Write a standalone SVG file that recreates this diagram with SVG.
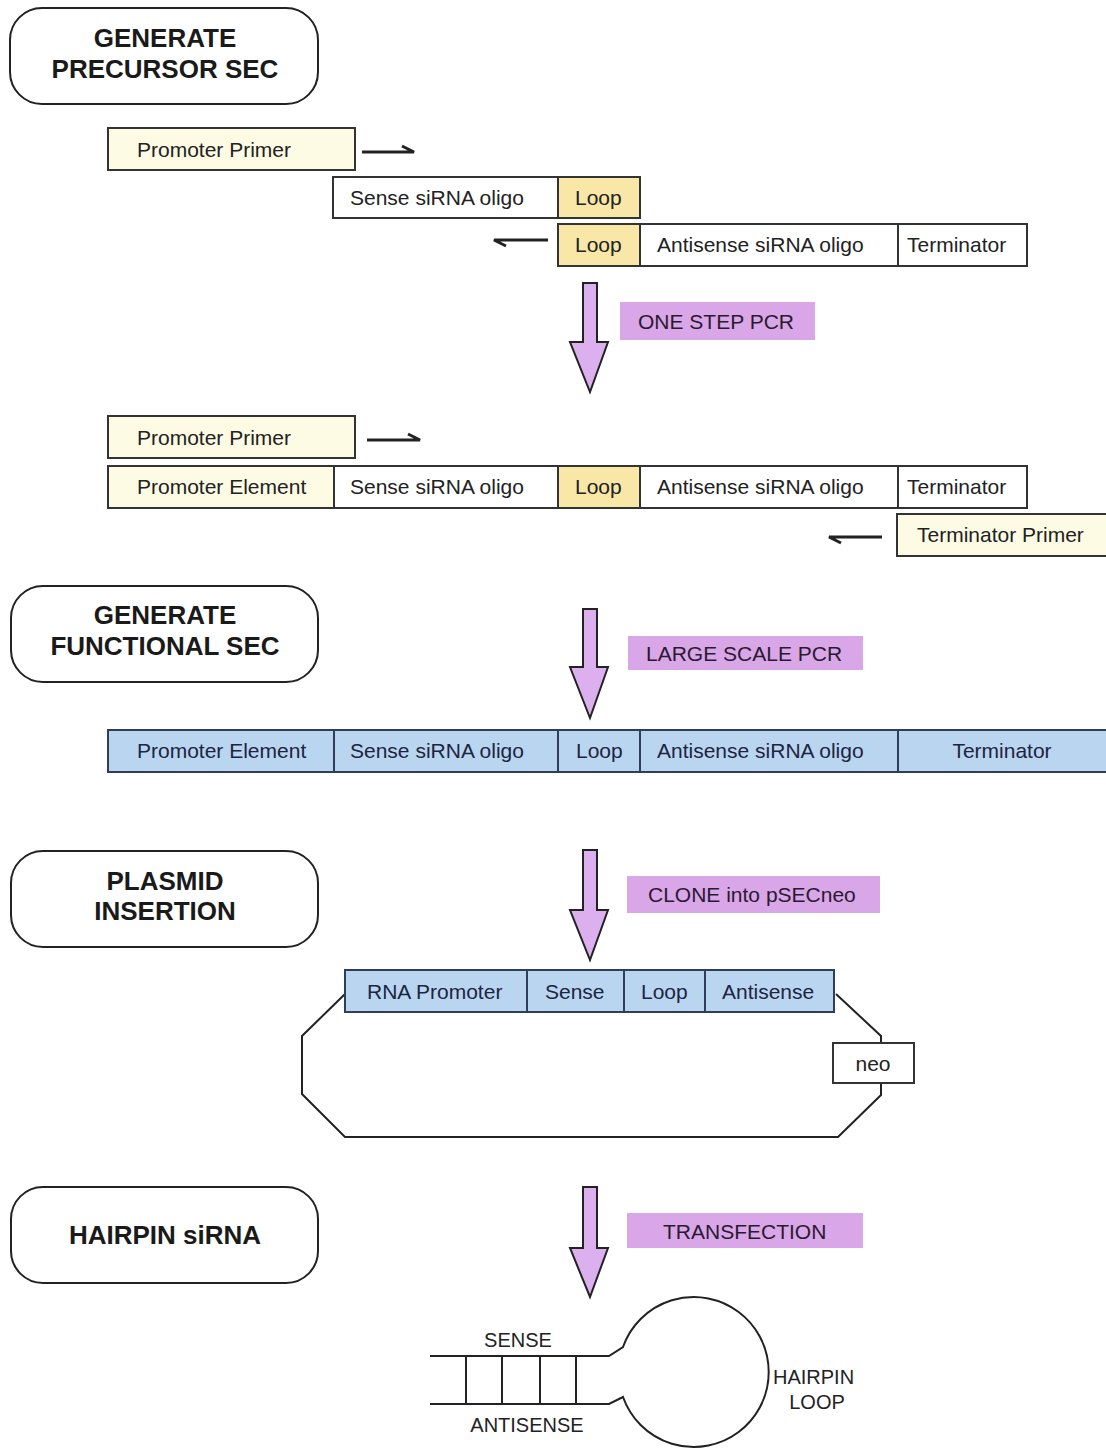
<svg xmlns="http://www.w3.org/2000/svg" width="1106" height="1449" viewBox="0 0 1106 1449">
<defs>
<style>
.title{font-family:"Liberation Sans",Arial,sans-serif;font-weight:bold;font-size:26px;fill:#1a1a1a;text-anchor:middle}
.t{font-family:"Liberation Sans",Arial,sans-serif;font-size:21px;fill:#222}
.tb{font-family:"Liberation Sans",Arial,sans-serif;font-size:21px;fill:#1c2540}
.lab{font-family:"Liberation Sans",Arial,sans-serif;font-size:21px;fill:#2a1a30}
.hp{font-family:"Liberation Sans",Arial,sans-serif;font-size:20px;fill:#222}
.rbox{fill:#fff;stroke:#222;stroke-width:2}
.cell{stroke:#333;stroke-width:2}
.w{fill:#fff}
.py{fill:#fdfbe4}
.ly{fill:#f8e7a6}
.bl{fill:#bad5f0;stroke:#2d3d5a;stroke-width:2}
.pl{fill:#d9a6e8}
.bigarrow{fill:#dcb0ef;stroke:#222;stroke-width:2;stroke-linejoin:miter}
.harp{fill:none;stroke:#222;stroke-width:3}
.line{fill:none;stroke:#222;stroke-width:2}
</style>
</defs>
<rect width="1106" height="1449" fill="#fff"/>

<g id="step-precursor">
<rect class="rbox" x="10" y="8" width="308" height="96" rx="32"/>
<text class="title" x="165" y="47">GENERATE</text>
<text class="title" x="165" y="78">PRECURSOR SEC</text>
</g>

<g id="promoter-primer-1">
<rect class="cell py" x="108" y="128" width="247" height="42"/>
<text class="t" x="137" y="157">Promoter Primer</text>
</g>

<g id="sense-oligo-row">
<rect class="cell w" x="333" y="177" width="225" height="41"/>
<rect class="cell ly" x="558" y="177" width="82" height="41"/>
<text class="t" x="350" y="205">Sense siRNA oligo</text>
<text class="t" x="575" y="205">Loop</text>
</g>

<g id="antisense-oligo-row">
<rect class="cell ly" x="558" y="224" width="82" height="42"/>
<rect class="cell w" x="640" y="224" width="258" height="42"/>
<rect class="cell w" x="898" y="224" width="129" height="42"/>
<text class="t" x="575" y="252">Loop</text>
<text class="t" x="657" y="252">Antisense siRNA oligo</text>
<text class="t" x="907" y="252">Terminator</text>
</g>

<g id="label-one-step">
<rect class="pl" x="620" y="302" width="195" height="38"/>
<text class="lab" x="638" y="329">ONE STEP PCR</text>
</g>

<g id="promoter-primer-2">
<rect class="cell py" x="108" y="416" width="247" height="42"/>
<text class="t" x="137" y="445">Promoter Primer</text>
</g>

<g id="precursor-sec">
<rect class="cell py" x="108" y="466" width="226" height="42"/>
<rect class="cell w" x="334" y="466" width="224" height="42"/>
<rect class="cell ly" x="558" y="466" width="82" height="42"/>
<rect class="cell w" x="640" y="466" width="258" height="42"/>
<rect class="cell w" x="898" y="466" width="129" height="42"/>
<text class="t" x="137" y="494">Promoter Element</text>
<text class="t" x="350" y="494">Sense siRNA oligo</text>
<text class="t" x="575" y="494">Loop</text>
<text class="t" x="657" y="494">Antisense siRNA oligo</text>
<text class="t" x="907" y="494">Terminator</text>
</g>

<g id="terminator-primer">
<rect class="cell py" x="897" y="514" width="210" height="42"/>
<text class="t" x="917" y="542">Terminator Primer</text>
</g>

<g id="step-functional">
<rect class="rbox" x="11" y="586" width="307" height="96" rx="32"/>
<text class="title" x="165" y="624">GENERATE</text>
<text class="title" x="165" y="655">FUNCTIONAL SEC</text>
</g>

<g id="label-large-scale">
<rect class="pl" x="628" y="636" width="235" height="34"/>
<text class="lab" x="646" y="661">LARGE SCALE PCR</text>
</g>

<g id="functional-sec">
<rect class="bl" x="108" y="730" width="226" height="42"/>
<rect class="bl" x="334" y="730" width="224" height="42"/>
<rect class="bl" x="558" y="730" width="82" height="42"/>
<rect class="bl" x="640" y="730" width="258" height="42"/>
<rect class="bl" x="898" y="730" width="210" height="42"/>
<text class="tb" x="137" y="758">Promoter Element</text>
<text class="tb" x="350" y="758">Sense siRNA oligo</text>
<text class="tb" x="576" y="758">Loop</text>
<text class="tb" x="657" y="758">Antisense siRNA oligo</text>
<text class="tb" x="1002" y="758" text-anchor="middle">Terminator</text>
</g>

<g id="step-plasmid">
<rect class="rbox" x="11" y="851" width="307" height="96" rx="32"/>
<text class="title" x="165" y="890">PLASMID</text>
<text class="title" x="165" y="920">INSERTION</text>
</g>

<g id="label-clone">
<rect class="pl" x="627" y="876" width="253" height="37"/>
<text class="lab" x="648" y="902">CLONE into pSECneo</text>
</g>

<g id="plasmid">
<path class="line" d="M345,994 L302,1036 V1094 L345,1137 H838 L881,1095 V1083 M881,1043 V1036 L836,994"/>
<rect class="bl" x="345" y="970" width="182" height="42"/>
<rect class="bl" x="527" y="970" width="97" height="42"/>
<rect class="bl" x="624" y="970" width="81" height="42"/>
<rect class="bl" x="705" y="970" width="129" height="42"/>
<text class="tb" x="367" y="999">RNA Promoter</text>
<text class="tb" x="545" y="999">Sense</text>
<text class="tb" x="641" y="999">Loop</text>
<text class="tb" x="722" y="999">Antisense</text>
</g>

<g id="neo">
<rect class="cell w" x="833" y="1043" width="81" height="40"/>
<text class="t" x="873" y="1071" text-anchor="middle">neo</text>
</g>

<g id="step-hairpin">
<rect class="rbox" x="11" y="1187" width="307" height="96" rx="32"/>
<text class="title" x="165" y="1244">HAIRPIN siRNA</text>
</g>

<g id="label-transfection">
<rect class="pl" x="627" y="1213" width="236" height="35"/>
<text class="lab" x="663" y="1239">TRANSFECTION</text>
</g>

<g id="hairpin">
<path class="line" d="M430,1356 H609 L623,1347 A75,75 0 1 1 623,1397 L609,1404 H430"/>
<path class="line" d="M466,1356 V1404 M502,1356 V1404 M540,1356 V1404 M576,1356 V1404"/>
<text class="hp" x="518" y="1347" text-anchor="middle">SENSE</text>
<text class="hp" x="527" y="1432" text-anchor="middle">ANTISENSE</text>
<text class="hp" x="773" y="1384">HAIRPIN</text>
<text class="hp" x="817" y="1409" text-anchor="middle">LOOP</text>
</g>

<g id="connectors">
<path class="harp" d="M362,152 H414 L402,146"/>
<path class="harp" d="M548,240 H494 L506,246"/>
<path class="harp" d="M367,440 H420 L408,434"/>
<path class="harp" d="M882,537 H829 L841,543"/>
<path class="bigarrow" d="M583,283 H597 V342 H608 L590,392 L570,342 H583 Z"/>
<path class="bigarrow" d="M583,609 H597 V667 H608 L590,718 L570,667 H583 Z"/>
<path class="bigarrow" d="M583,850 H597 V910 H608 L590,960 L570,910 H583 Z"/>
<path class="bigarrow" d="M583,1187 H597 V1248 H608 L590,1297 L570,1248 H583 Z"/>
</g>
</svg>
